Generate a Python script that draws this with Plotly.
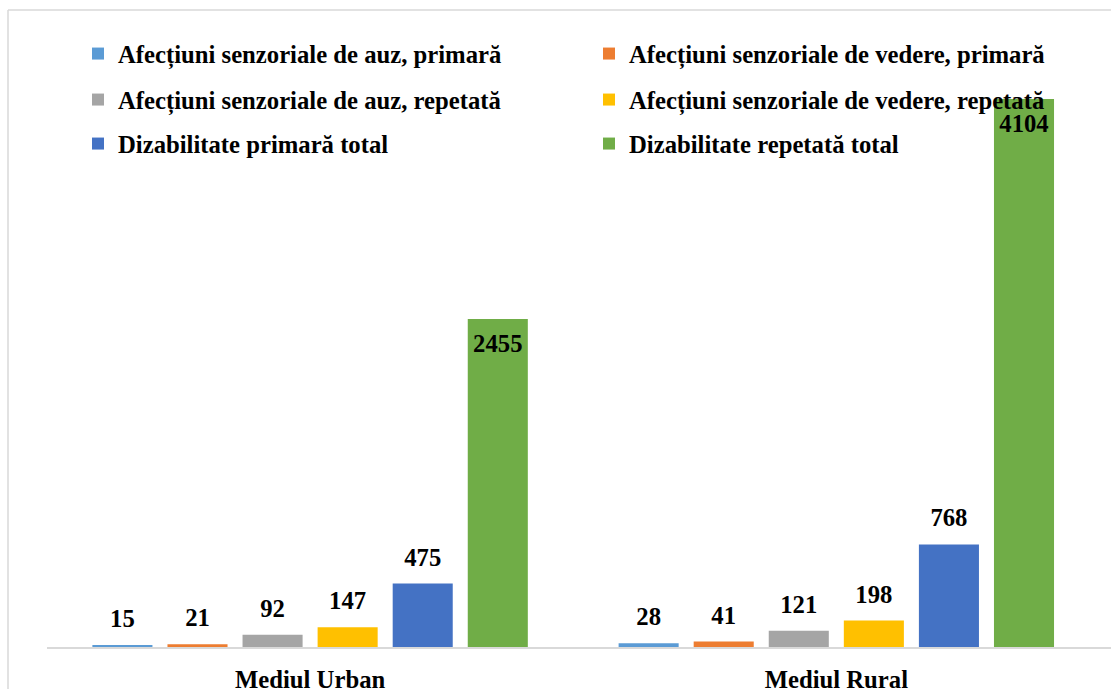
import plotly.graph_objects as go

categories = ['Mediul Urban', 'Mediul Rural']
series_names = [
    'Afecțiuni senzoriale de auz, primară',
    'Afecțiuni senzoriale de vedere, primară',
    'Afecțiuni senzoriale de auz, repetată',
    'Afecțiuni senzoriale de vedere, repetată',
    'Dizabilitate primară total',
    'Dizabilitate repetată total',
]
auz_primara = [15, 28]
vedere_primara = [21, 41]
auz_repetata = [92, 121]
vedere_repetata = [147, 198]
diz_primara = [475, 768]
diz_repetata = [2455, 4104]

series_values = [auz_primara, vedere_primara, auz_repetata,
                 vedere_repetata, diz_primara, diz_repetata]
colors = ['#5B9BD5', '#ED7D31', '#A5A5A5', '#FFC000', '#4472C4', '#70AD47']
legend_ids = ['legend', 'legend', 'legend2', 'legend2', 'legend3', 'legend3']

W, H = 1111, 689
ML, MR, MT, MB = 47, 0, 46, 42
font = 'Liberation Serif, Times New Roman, serif'
fs = 24.7

fig = go.Figure()
for name, vals, col, lg in zip(series_names, series_values, colors, legend_ids):
    inside = name == 'Dizabilitate repetată total'
    big = f'<span style="font-size:{fs}px"><b>{{}}</b></span>'
    if inside:
        # blank spacer line on top pushes the number a bit down into the bar
        txt = ['\u00a0<br>' + big.format(v) for v in vals]
        tf = dict(family=font, size=14, color='black')
    else:
        # small blank line below the number lifts the label off the bar
        txt = [big.format(v) + '<br>\u00a0' for v in vals]
        tf = dict(family=font, size=10, color='black')
    fig.add_trace(go.Bar(
        x=categories,
        y=vals,
        name=f'<b>{name}</b>',
        marker=dict(color=col, line=dict(width=0)),
        text=txt,
        textposition='inside' if inside else 'outside',
        insidetextanchor='end',
        textfont=tf,
        cliponaxis=False,
        legend=lg,
    ))

pw = W - ML - MR
ph = H - MT - MB


def px_x(x):
    return (x - ML) / pw


def px_y(y):
    return 1 - (y - MT) / ph


leg_common = dict(
    orientation='h',
    xref='paper', yref='paper',
    x=px_x(78), xanchor='left',
    yanchor='middle',
    entrywidth=466,
    font=dict(family=font, size=fs, color='black'),
    bgcolor='rgba(0,0,0,0)',
    itemclick=False,
)

fig.update_layout(
    width=W, height=H,
    margin=dict(l=ML, r=MR, t=MT, b=MB, autoexpand=False),
    paper_bgcolor='white',
    plot_bgcolor='white',
    barmode='group',
    bargap=0.144,
    bargroupgap=0.2,
    showlegend=True,
    legend=dict(leg_common, y=px_y(54)),
    legend2=dict(leg_common, y=px_y(100)),
    legend3=dict(leg_common, y=px_y(144)),
    xaxis=dict(
        range=[-0.5, 1.522],
        automargin=False,
        showline=True, linecolor='#D9D9D9', linewidth=1.5,
        ticks='', showgrid=False,
        tickfont=dict(family=font, size=fs, color='black'),
        tickprefix='<b>', ticksuffix='</b>',
        ticklabelstandoff=10,
        fixedrange=True,
    ),
    yaxis=dict(
        range=[0, 4500],
        automargin=False,
        visible=False,
        showgrid=False,
        zeroline=False,
        fixedrange=True,
    ),
    shapes=[
        dict(type='line', xref='paper', yref='paper',
             x0=px_x(8), x1=px_x(1112), y0=px_y(10), y1=px_y(10),
             line=dict(color='#D9D9D9', width=1.5)),
        dict(type='line', xref='paper', yref='paper',
             x0=px_x(8), x1=px_x(8), y0=px_y(10), y1=px_y(690),
             line=dict(color='#D9D9D9', width=1.5)),
    ],
)

fig.write_html('out.html', config={'displayModeBar': False},
               post_script="document.body.style.margin='0';")
